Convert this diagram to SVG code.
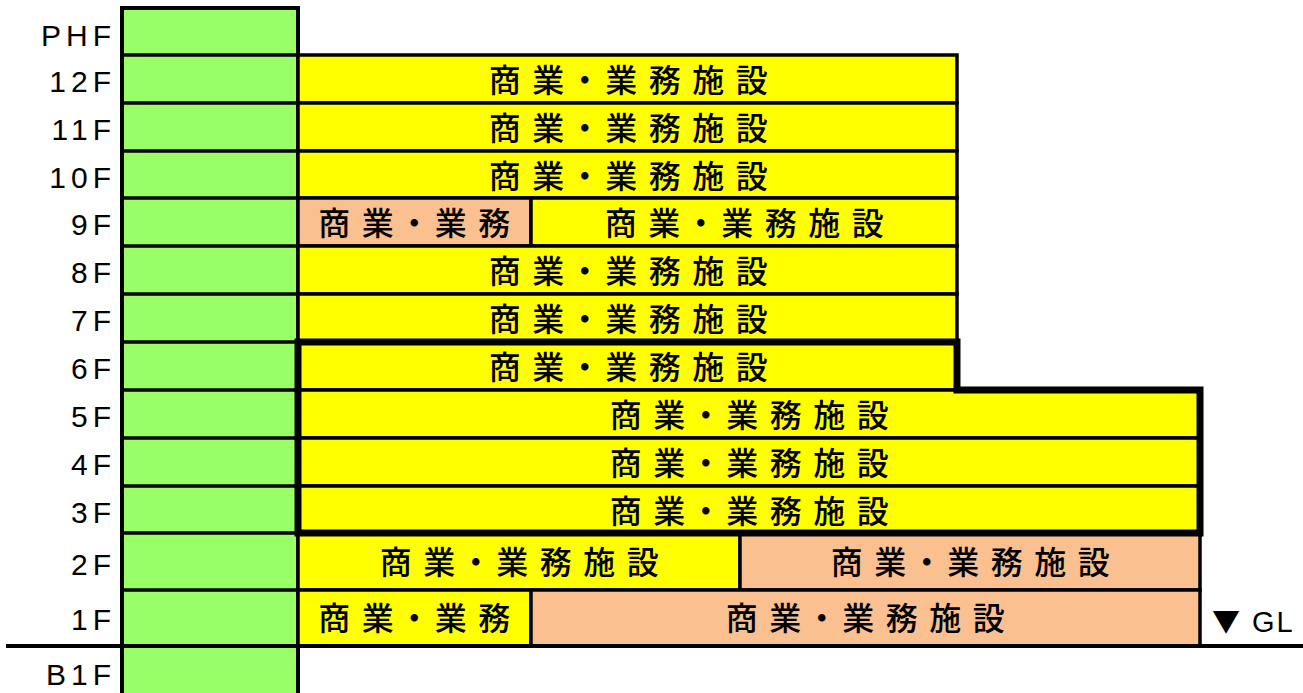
<svg xmlns="http://www.w3.org/2000/svg" width="1303" height="693" viewBox="0 0 1303 693">
<style>
.lbl{font-family:"Liberation Sans",Arial,sans-serif;font-size:30px;letter-spacing:5px;text-anchor:end;fill:#000}
.t{font-family:"Noto Sans CJK JP","Noto Sans CJK SC",sans-serif;font-size:32px;font-weight:500;letter-spacing:11.5px;text-anchor:middle;fill:#000}
.n{letter-spacing:4.5px}
.y{fill:#FFFF00;stroke:#000;stroke-width:3.5}
.s{fill:#FAC090;stroke:#000;stroke-width:3.5}
.g{fill:#99FF66;stroke:#000;stroke-width:4}
.ln{stroke:#000;stroke-width:3.5}
</style>
<rect width="1303" height="693" fill="#fff"/>
<g id="core">
<rect class="g" x="122" y="8" width="176" height="700"/>
<g class="ln">
<line x1="122" y1="55" x2="298" y2="55"/><line x1="122" y1="103" x2="298" y2="103"/><line x1="122" y1="151" x2="298" y2="151"/><line x1="122" y1="198" x2="298" y2="198"/><line x1="122" y1="246" x2="298" y2="246"/><line x1="122" y1="294" x2="298" y2="294"/><line x1="122" y1="342" x2="298" y2="342"/><line x1="122" y1="390" x2="298" y2="390"/><line x1="122" y1="438" x2="298" y2="438"/><line x1="122" y1="486" x2="298" y2="486"/><line x1="122" y1="533" x2="298" y2="533"/><line x1="122" y1="590" x2="298" y2="590"/>
</g>
</g>
<g id="labels">
<text class="lbl" x="116" y="46">PHF</text>
<text class="lbl" x="116" y="92">12F</text>
<text class="lbl" x="116" y="140">11F</text>
<text class="lbl" x="116" y="188">10F</text>
<text class="lbl" x="116" y="235">9F</text>
<text class="lbl" x="116" y="283">8F</text>
<text class="lbl" x="116" y="331">7F</text>
<text class="lbl" x="116" y="379">6F</text>
<text class="lbl" x="116" y="427">5F</text>
<text class="lbl" x="116" y="475">4F</text>
<text class="lbl" x="116" y="523">3F</text>
<text class="lbl" x="116" y="575">2F</text>
<text class="lbl" x="116" y="630">1F</text>
<text class="lbl" x="116" y="685">B1F</text>
</g>
<g id="f12"><rect class="y" x="298" y="55" width="659" height="48"/><text class="t" x="634" y="92">商<tspan class="n">業・</tspan>業務施設</text></g>
<g id="f11"><rect class="y" x="298" y="103" width="659" height="48"/><text class="t" x="634" y="140">商<tspan class="n">業・</tspan>業務施設</text></g>
<g id="f10"><rect class="y" x="298" y="151" width="659" height="47"/><text class="t" x="634" y="188">商<tspan class="n">業・</tspan>業務施設</text></g>
<g id="f9a"><rect class="s" x="298" y="198" width="233" height="48"/><text class="t" x="420" y="235">商<tspan class="n">業・</tspan>業務</text></g>
<g id="f9b"><rect class="y" x="531" y="198" width="426" height="48"/><text class="t" x="750" y="235">商<tspan class="n">業・</tspan>業務施設</text></g>
<g id="f8"><rect class="y" x="298" y="246" width="659" height="48"/><text class="t" x="634" y="283">商<tspan class="n">業・</tspan>業務施設</text></g>
<g id="f7"><rect class="y" x="298" y="294" width="659" height="48"/><text class="t" x="634" y="331">商<tspan class="n">業・</tspan>業務施設</text></g>
<g id="f6"><rect class="y" x="298" y="342" width="659" height="48"/><text class="t" x="634" y="379">商<tspan class="n">業・</tspan>業務施設</text></g>
<g id="f5"><rect class="y" x="298" y="390" width="902" height="48"/><text class="t" x="755" y="427">商<tspan class="n">業・</tspan>業務施設</text></g>
<g id="f4"><rect class="y" x="298" y="438" width="902" height="48"/><text class="t" x="755" y="475">商<tspan class="n">業・</tspan>業務施設</text></g>
<g id="f3"><rect class="y" x="298" y="486" width="902" height="47"/><text class="t" x="755" y="523">商<tspan class="n">業・</tspan>業務施設</text></g>
<g id="f2a"><rect class="y" x="298" y="533" width="442" height="57"/><text class="t" x="525" y="574">商<tspan class="n">業・</tspan>業務施設</text></g>
<g id="f2b"><rect class="s" x="740" y="533" width="460" height="57"/><text class="t" x="976" y="574">商<tspan class="n">業・</tspan>業務施設</text></g>
<g id="f1a"><rect class="y" x="298" y="590" width="233" height="56"/><text class="t" x="420" y="630">商<tspan class="n">業・</tspan>業務</text></g>
<g id="f1b"><rect class="s" x="531" y="590" width="669" height="56"/><text class="t" x="871" y="630">商<tspan class="n">業・</tspan>業務施設</text></g>
<g id="outline">
<polygon points="298,342 957,342 957,390 1200,390 1200,533 298,533" fill="none" stroke="#000" stroke-width="7"/>
</g>
<g id="ground">
<line x1="6" y1="646" x2="1303" y2="646" stroke="#000" stroke-width="4"/>
<text x="1212" y="632" style="font-family:'Liberation Sans',Arial,sans-serif;font-size:29px;letter-spacing:2px;fill:#000"><tspan style="font-family:'Noto Sans CJK JP',sans-serif;font-size:28px;letter-spacing:0">▼</tspan><tspan dx="12">GL</tspan></text>
</g>
</svg>
